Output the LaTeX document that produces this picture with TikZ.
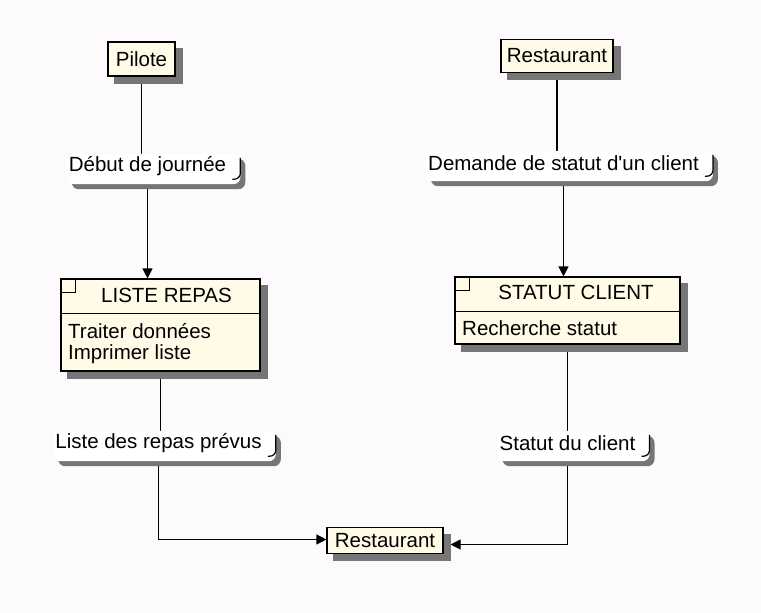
\documentclass[tikz,border=0pt]{standalone}
\usepackage{fontspec}
\setmainfont{Liberation Sans}
\usetikzlibrary{arrows.meta}
\definecolor{pagebg}{RGB}{252,250,252}
\definecolor{cream}{RGB}{255,251,231}
\definecolor{dropgray}{RGB}{118,118,118}
\pgfdeclarelayer{bg}
\pgfdeclarelayer{wires}
\pgfdeclarelayer{shadows}
\pgfsetlayers{bg,wires,shadows,main}

\begin{document}
\begin{tikzpicture}[x=1pt,y=-1pt,
  font=\fontsize{20.5}{24}\selectfont,
  box/.style={draw=black, line width=1.1pt, fill=cream, inner sep=0pt},
  flow/.style={inner xsep=2pt, inner ysep=0pt, minimum height=24pt},
  wire/.style={line width=1.1pt},
  arr/.style={wire, -{Triangle[width=10pt,length=10pt]}},
  body/.style={inner sep=0pt, anchor=west},
  title/.style={inner sep=0pt}]

\begin{pgfonlayer}{bg}
  \fill[pagebg] (0,0) rectangle (761,613);
\end{pgfonlayer}
\useasboundingbox (0,0) rectangle (761,613);

% actors
\node[box, minimum width=67pt, minimum height=34pt] (pilote) at (141.5,59) {Pilote};
\node[box, minimum width=112pt, minimum height=33pt] (rtop) at (557,56) {Restaurant};
\node[box, minimum width=116pt, minimum height=26pt] (rbot) at (385,540.5) {Restaurant};

% processes
\node[box, minimum width=199pt, minimum height=92pt] (liste) at (160.5,325) {};
\node[title] (listet) at (166.5,295) {LISTE REPAS};
\node[body] (liste1) at (68,331) {Traiter données};
\node[body] (liste2) at (68,354) {Imprimer liste};

\node[box, minimum width=225pt, minimum height=67pt] (statut) at (567.5,310.5) {};
\node[title] (statutt) at (576,292) {STATUT CLIENT};
\node[body] (statut1) at (462,328) {Recherche statut};

\foreach \n in {liste,statut} {
  \draw[line width=1.1pt] ([yshift=-35pt]\n.north west) -- ([yshift=-35pt]\n.north east);
  \draw[line width=1.1pt] ([xshift=15pt]\n.north west) |- ([yshift=-14pt]\n.north west);
}

% flows: white tab over a grey tab shifted right and down, black edge on the right
\newcommand\flowtab[1]{%
  \begin{pgfonlayer}{shadows}
    \fill[dropgray, rounded corners=7pt]
      ([xshift=5pt,yshift=-5pt]#1.north west) rectangle ([xshift=17pt,yshift=-11pt]#1.south east);
    \fill[white, rounded corners=7pt]
      (#1.north west) rectangle ([xshift=12pt,yshift=-6pt]#1.south east);
  \end{pgfonlayer}
  \draw[black, line width=1.2pt, rounded corners=6pt]
    ([xshift=12pt,yshift=-4pt]#1.north east) -- ([xshift=12pt,yshift=-1pt]#1.south east)
    -- ([xshift=4pt,yshift=-1pt]#1.south east);
}
\node[flow] (debut) at (147.5,166) {Début de journée};
\node[flow] (demande) at (563.5,163) {Demande de statut d\textquotesingle un client};
\node[flow] (repas) at (158.5,443) {Liste des repas prévus};
\node[flow] (statutc) at (567.5,443) {Statut du client};
\flowtab{debut}
\flowtab{demande}
\flowtab{repas}
\flowtab{statutc}

\begin{pgfonlayer}{shadows}
  \foreach \n in {pilote,rtop,rbot,liste,statut}
    \fill[dropgray] ([xshift=7pt,yshift=-7pt]\n.north west) rectangle ([xshift=7pt,yshift=-7pt]\n.south east);
\end{pgfonlayer}

% connectors
\begin{pgfonlayer}{wires}
  \draw[wire] (pilote.south) -- (pilote.south |- debut.north);
  \draw[arr] (debut.south) -- (debut.south |- liste.north);
  \draw[wire] (rtop.south) -- (rtop.south |- demande.north);
  \draw[arr] (demande.south) -- (demande.south |- statut.north);
  \draw[wire] (liste.south) -- (liste.south |- repas.north);
  \draw[wire] (statut.south) -- (statut.south |- statutc.north);
  \draw[arr] (repas.south) |- ([yshift=1pt]rbot.west);
  \draw[arr] (statutc.south) |- ([xshift=7pt,yshift=-4pt]rbot.east);
\end{pgfonlayer}
\end{tikzpicture}
\end{document}
